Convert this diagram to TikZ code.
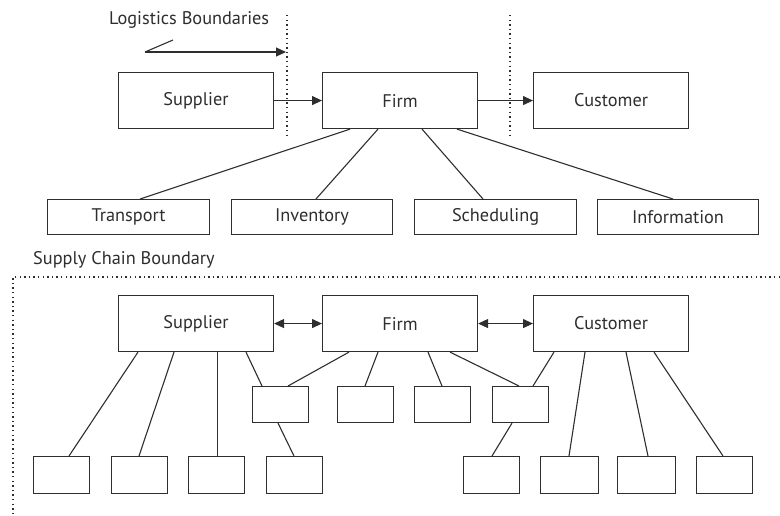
\documentclass[tikz,border=0pt]{standalone}
\usepackage{fontspec}
\setmainfont{PT Sans}
\usetikzlibrary{arrows.meta}
\definecolor{ink}{HTML}{2E2E2E}
\tikzset{
  box/.style={draw=ink, line width=1.1pt, anchor=north west, inner sep=0pt,
              text=ink, font=\fontsize{18.3}{21}\selectfont},
  bigbox/.style={box, minimum width=155pt, minimum height=56pt},
  taskbox/.style={box, minimum width=162pt, minimum height=35pt},
  smallbox/.style={box, minimum width=56pt, minimum height=36pt},
  link/.style={draw=ink, line width=1.1pt},
  flow/.style={link, -{Triangle[length=10pt,width=9pt]}},
  twoway/.style={link, {Triangle[length=10pt,width=9pt]}-{Triangle[length=10pt,width=9pt]}},
  border/.style={draw=ink, line width=1.4pt, dash pattern=on 1.4pt off 3.2pt},
  caption/.style={text=ink, font=\fontsize{18.3}{21}\selectfont, inner sep=0pt}
}
\begin{document}
\begin{tikzpicture}[x=1pt, y=-1pt]
\useasboundingbox (0,0) rectangle (780,515);

% ---------- logistics view ----------
\node[caption, anchor=west] (logcap) at (109,20) {Logistics Boundaries};
\coordinate (bl1top) at (287,15);
\coordinate (bl1bot) at (287,136);
\coordinate (bl2top) at (510,15);
\coordinate (bl2bot) at (510,136);
\draw[border] (bl1top) -- (bl1bot);
\draw[border] (bl2top) -- (bl2bot);
\coordinate (lbtick) at (173,40);
\coordinate (lbstart) at (145,52);
\coordinate (lbend) at (286,52);
\draw[link] (lbtick) -- (lbstart);
\draw[flow] (lbstart) -- (lbend);

\node[bigbox] (sup) at (118,72) {Supplier};
\node[bigbox] (firm) at (322,72) {Firm};
\node[bigbox] (cust) at (533,72) {Customer};
\draw[flow] (sup.east) -- (firm.west);
\draw[flow] (firm.east) -- (cust.west);

\node[taskbox] (trans) at (47,199) {Transport};
\node[taskbox, minimum width=161pt] (inv) at (231,199) {Inventory};
\node[taskbox] (sched) at (414,199) {Scheduling};
\node[taskbox, minimum width=161pt] (info) at (597,199) {Information};
\draw[link] ([xshift=28pt]firm.south west) -- ([xshift=93pt]trans.north west);
\draw[link] ([xshift=56pt]firm.south west) -- ([xshift=85pt]inv.north west);
\draw[link] ([xshift=100pt]firm.south west) -- ([xshift=69pt]sched.north west);
\draw[link] ([xshift=135pt]firm.south west) -- ([xshift=76pt]info.north west);

% ---------- supply chain view ----------
\node[caption, anchor=west] (sccap) at (33,260) {Supply Chain Boundary};
\coordinate (scright) at (780,277);
\coordinate (sccorner) at (13,277);
\coordinate (scbottom) at (13,515);
\draw[border] (scright) -- (sccorner) -- (scbottom);

\node[bigbox] (sup2) at (118,295) {Supplier};
\node[bigbox] (firm2) at (322,295) {Firm};
\node[bigbox] (cust2) at (533,295) {Customer};
\draw[twoway] (sup2.east) -- (firm2.west);
\draw[twoway] (firm2.east) -- (cust2.west);

% second tier
\node[smallbox] (ma) at (252,386) {};
\node[smallbox] (mb) at (337,386) {};
\node[smallbox] (mc) at (414,386) {};
\node[smallbox] (md) at (492,386) {};

% third tier
\node[smallbox, minimum height=37pt] (b1) at (33,456) {};
\node[smallbox, minimum height=37pt] (b2) at (111,456) {};
\node[smallbox, minimum height=37pt] (b3) at (188,456) {};
\node[smallbox, minimum height=37pt] (b4) at (266,456) {};
\node[smallbox, minimum height=37pt] (b5) at (463,456) {};
\node[smallbox, minimum height=37pt, minimum width=58pt] (b6) at (540,456) {};
\node[smallbox, minimum height=37pt, minimum width=58pt] (b7) at (617,456) {};
\node[smallbox, minimum height=37pt] (b8) at (696,456) {};

% supplier links
\draw[link] ([xshift=20pt]sup2.south west) -- ([xshift=36pt]b1.north west);
\draw[link] ([xshift=56pt]sup2.south west) -- ([xshift=28pt]b2.north west);
\draw[link] ([xshift=99.5pt]sup2.south west) -- ([xshift=29.5pt]b3.north west);
\draw[link] ([xshift=128pt]sup2.south west) -- ([xshift=10pt]ma.north west);
\draw[link] ([xshift=26pt]ma.south west) -- ([xshift=28pt]b4.north west);

% firm links
\draw[link] ([xshift=27pt]firm2.south west) -- ([xshift=36pt]ma.north west);
\draw[link] ([xshift=56pt]firm2.south west) -- ([xshift=28pt]mb.north west);
\draw[link] ([xshift=106pt]firm2.south west) -- ([xshift=28pt]mc.north west);
\draw[link] ([xshift=128pt]firm2.south west) -- ([xshift=27pt]md.north west);

% customer links
\draw[link] ([xshift=21pt]cust2.south west) -- ([xshift=41pt]md.north west);
\draw[link] ([xshift=20pt]md.south west) -- ([xshift=29pt]b5.north west);
\draw[link] ([xshift=52pt]cust2.south west) -- ([xshift=29pt]b6.north west);
\draw[link] ([xshift=93pt]cust2.south west) -- ([xshift=31pt]b7.north west);
\draw[link] ([xshift=121pt]cust2.south west) -- ([xshift=27pt]b8.north west);
\end{tikzpicture}
\end{document}
